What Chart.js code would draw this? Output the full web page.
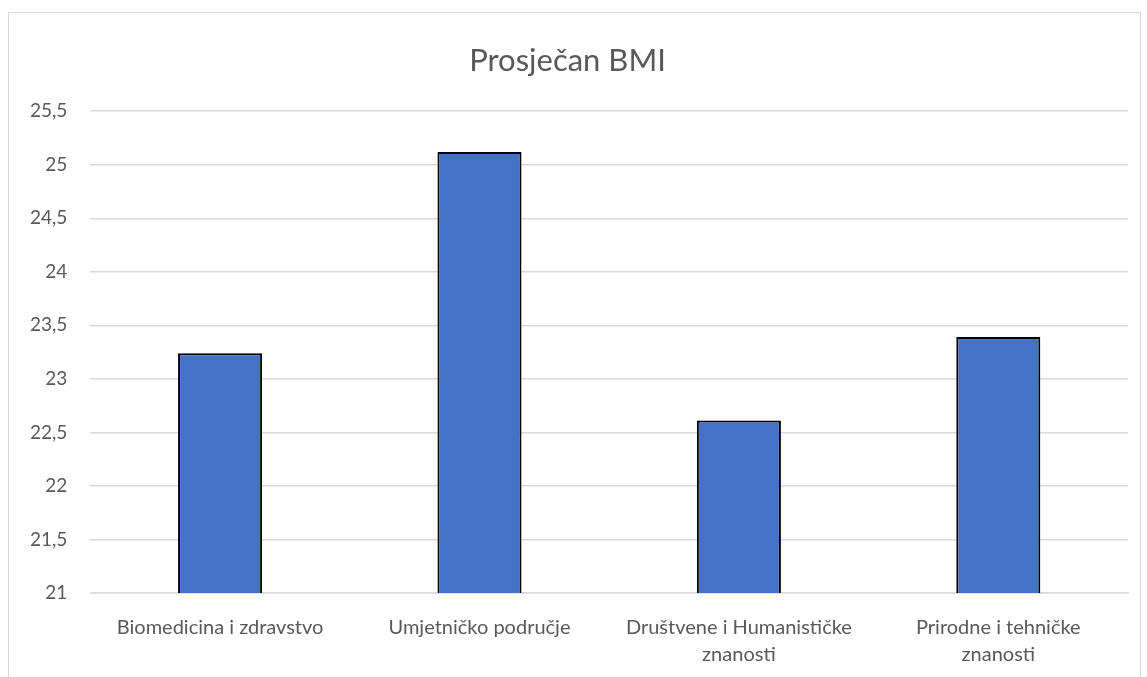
<!DOCTYPE html>
<html>
<head>
<meta charset="utf-8">
<script src="https://cdn.jsdelivr.net/npm/chart.js@4"></script>
<style>
  body { margin: 0; background: #fff; }
  #frame { position: absolute; left: 8px; top: 12px; width: 1131px; height: 700px; border: 1px solid #d9d9d9; }
  #chart { position: absolute; left: 0; top: 0; }
</style>
</head>
<body>
<div id="frame"></div>
<canvas id="chart" width="1147" height="677"></canvas>
<script>
// podaci s grafa
const categories = [
  "Biomedicina i zdravstvo",
  "Umjetničko područje",
  ["Društvene i Humanističke", "znanosti"],
  ["Prirodne i tehničke", "znanosti"]
];
const bmiValues = [23.24, 25.12, 22.61, 23.39];
const yMin = 21, yMax = 25.5, yStep = 0.5;

const grey = "#595959";
const fontFam = "Lato, sans-serif";

new Chart(document.getElementById("chart"), {
  type: "bar",
  data: {
    labels: categories,
    datasets: [{
      label: "Prosječan BMI",
      data: bmiValues,
      backgroundColor: "#4472c4",
      borderColor: "#000",
      borderWidth: 2,
      barPercentage: 0.324,
      categoryPercentage: 1
    }]
  },
  options: {
    responsive: false,
    animation: false,
    layout: { padding: { left: 7, right: 19, top: 42, bottom: -12 } },
    plugins: {
      legend: { display: false },
      tooltip: { enabled: false },
      title: {
        display: true,
        text: "Prosječan BMI",
        color: grey,
        font: { family: fontFam, size: 31, weight: "normal", lineHeight: 1.2 },
        padding: { top: 0, bottom: 32 }
      }
    },
    scales: {
      y: {
        min: yMin,
        max: yMax,
        ticks: {
          stepSize: yStep,
          color: grey,
          font: { family: fontFam, size: 19 },
          padding: 23,
          callback: v => String(v).replace(".", ",")
        },
        grid: { color: "#d9d9d9", lineWidth: 1.5, drawTicks: false },
        border: { display: false }
      },
      x: {
        ticks: {
          color: grey,
          font: { family: fontFam, size: 20, lineHeight: 1.35 },
          padding: 21,
          maxRotation: 0
        },
        grid: { display: false, drawTicks: false },
        border: { display: true, color: "#d9d9d9", width: 1.5 }
      }
    }
  }
});
</script>
</body>
</html>
